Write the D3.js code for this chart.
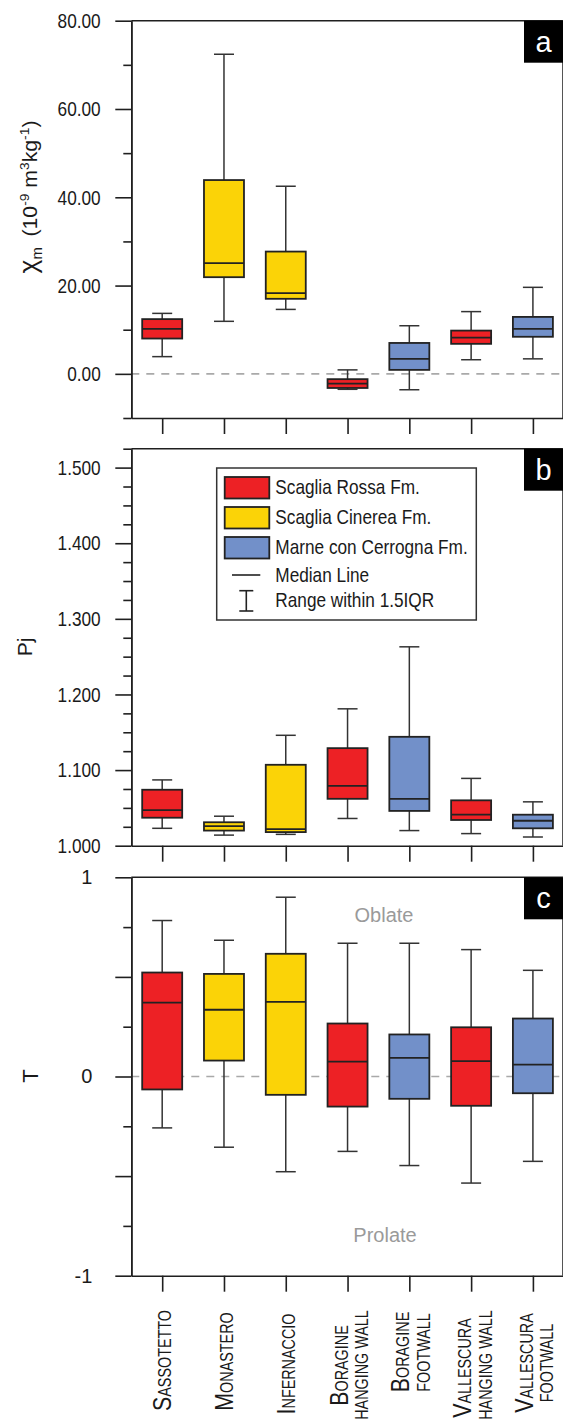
<!DOCTYPE html>
<html>
<head>
<meta charset="utf-8">
<script src="https://cdn.jsdelivr.net/npm/d3@7"></script>
<style>
  html, body { margin: 0; padding: 0; background: #fff; }
  svg { display: block; }
</style>
</head>
<body>
<svg id="chart" width="563" height="1423"></svg>
<script>
// ---- data -------------------------------------------------------------
const sites = ["Sassotetto", "Monastero", "Infernaccio", "Boragine HW", "Boragine FW", "Vallescura HW", "Vallescura FW"];

// small-caps style labels: [initial, rest] for each line
const siteLines = [
  [["S", "ASSOTETTO"]],
  [["M", "ONASTERO"]],
  [["I", "NFERNACCIO"]],
  [["B", "ORAGINE"], ["", "HANGING WALL"]],
  [["B", "ORAGINE"], ["", "FOOTWALL"]],
  [["V", "ALLESCURA"], ["", "HANGING WALL"]],
  [["V", "ALLESCURA"], ["", "FOOTWALL"]]
];

const formations = ["Scaglia Rossa Fm.", "Scaglia Cinerea Fm.", "Marne con Cerrogna Fm."];
const formationColors = ["#ED2125", "#FBD307", "#7290C9"];
const siteFormation = [0, 1, 1, 0, 2, 0, 2];

// five-number summaries per site: [low whisker, Q1, median, Q3, high whisker]
const chiBoxes = [
  [3.9, 8.0, 10.2, 12.4, 13.7],
  [11.9, 21.9, 25.1, 43.9, 72.4],
  [14.6, 17.0, 18.3, 27.7, 42.5],
  [-3.5, -3.2, -2.2, -1.2, 0.9],
  [-3.6, 0.9, 3.4, 7.0, 10.9],
  [3.2, 6.8, 8.2, 9.8, 14.1],
  [3.4, 8.4, 10.2, 12.9, 19.6]
];
const pjBoxes = [
  [1.023, 1.037, 1.047, 1.074, 1.087],
  [1.014, 1.020, 1.026, 1.031, 1.039],
  [1.015, 1.018, 1.022, 1.107, 1.146],
  [1.036, 1.062, 1.079, 1.129, 1.181],
  [1.020, 1.046, 1.062, 1.144, 1.263],
  [1.016, 1.034, 1.041, 1.060, 1.089],
  [1.0115, 1.023, 1.033, 1.041, 1.058]
];
const tBoxes = [
  [-0.258, -0.065, 0.371, 0.522, 0.783],
  [-0.355, 0.080, 0.335, 0.515, 0.684],
  [-0.478, -0.092, 0.375, 0.616, 0.900],
  [-0.376, -0.151, 0.075, 0.266, 0.669],
  [-0.447, -0.112, 0.094, 0.211, 0.669],
  [-0.535, -0.147, 0.077, 0.247, 0.637],
  [-0.426, -0.084, 0.060, 0.291, 0.533]
];

// axis ticks
const chiLabelTicks = [0, 20, 40, 60, 80];
const chiMinorTicks = [-10, 10, 30, 50, 70];
const pjLabelTicks = [1.0, 1.1, 1.2, 1.3, 1.4, 1.5];
const pjMinorTicks = [1.025, 1.05, 1.075, 1.125, 1.15, 1.175, 1.225, 1.25, 1.275,
                      1.325, 1.35, 1.375, 1.425, 1.45, 1.475, 1.525];
const tLabelTicks = [-1, 0, 1];
const tLongTicks = [-1, -0.5, 0, 0.5, 1];
const tMinorTicks = [-0.75, -0.25, 0.25, 0.75];

const legendExtra = ["Median Line", "Range within 1.5IQR"];

// ---- layout -----------------------------------------------------------
const SANS = '"Liberation Sans", Arial, Helvetica, sans-serif';
const INK = "#1f1f1f";
const LEFT = 131.3, RIGHT = 563.8;
const BOX_W = 40, CAP_W = 20;
const NARROW_RATIO = 0.82;
// vertical centre of each rotated site-label line
const labelCentres = [[1360.5], [1361.5], [1364], [1365.5, 1365], [1352, 1352.5], [1368, 1365], [1363, 1363]];

const svg = d3.select("#chart");

// condense a text element horizontally (narrow typeface look)
function narrow(sel, ratio = NARROW_RATIO) {
  sel.each(function () {
    const len = this.getComputedTextLength();
    if (len > 0) {
      this.setAttribute("textLength", (len * ratio).toFixed(2));
      this.setAttribute("lengthAdjust", "spacingAndGlyphs");
    }
  });
  return sel;
}

const x = d3.scalePoint().domain(sites).range([LEFT, RIGHT]).padding(0.5);

const panels = [
  {
    key: "a", boxes: chiBoxes, domain: [-10, 80], range: [418, 20.7],
    labelTicks: chiLabelTicks, longTicks: chiLabelTicks, minorTicks: chiMinorTicks,
    fmt: d3.format(".2f"), condensed: true, fontSize: 21, pad: 14.6, zeroLine: 0
  },
  {
    key: "b", boxes: pjBoxes, domain: [1.0, 1.525], range: [845.7, 448.7],
    labelTicks: pjLabelTicks, longTicks: pjLabelTicks, minorTicks: pjMinorTicks,
    fmt: d3.format(".3f"), condensed: true, fontSize: 21, pad: 14.6, zeroLine: null
  },
  {
    key: "c", boxes: tBoxes, domain: [-1, 1], range: [1275.7, 877.3],
    labelTicks: tLabelTicks, longTicks: tLongTicks, minorTicks: tMinorTicks,
    fmt: v => String(v), condensed: false, fontSize: 20, pad: 23, zeroLine: 0
  }
];

panels.forEach(p => {
  const y = d3.scaleLinear().domain(p.domain).range(p.range);
  const g = svg.append("g").attr("class", "panel-" + p.key);
  const yTop = p.range[1], yBot = p.range[0];

  // dashed reference line
  if (p.zeroLine !== null) {
    g.append("line")
      .attr("x1", LEFT).attr("x2", RIGHT)
      .attr("y1", y(p.zeroLine)).attr("y2", y(p.zeroLine))
      .attr("stroke", "#a9a9a9").attr("stroke-width", 1.6)
      .attr("stroke-dasharray", "8,7");
  }

  // frame: top and right edges
  g.append("line").attr("x1", LEFT).attr("x2", RIGHT).attr("y1", yTop).attr("y2", yTop)
    .attr("stroke", INK).attr("stroke-width", 1.6);
  g.append("line").attr("x1", 562.5).attr("x2", 562.5).attr("y1", yTop).attr("y2", yBot)
    .attr("stroke", "#555").attr("stroke-width", 1);

  // whiskers and boxes
  const items = g.selectAll("g.item").data(p.boxes).join("g").attr("class", "item")
    .attr("transform", (d, i) => `translate(${x(sites[i])},0)`);

  items.append("line")
    .attr("x1", 0).attr("x2", 0)
    .attr("y1", d => y(d[0])).attr("y2", d => y(d[4]))
    .attr("stroke", "#333").attr("stroke-width", 1.5);
  items.append("line")
    .attr("x1", -CAP_W / 2).attr("x2", CAP_W / 2)
    .attr("y1", d => y(d[4])).attr("y2", d => y(d[4]))
    .attr("stroke", "#333").attr("stroke-width", 1.5);
  items.append("line")
    .attr("x1", -CAP_W / 2).attr("x2", CAP_W / 2)
    .attr("y1", d => y(d[0])).attr("y2", d => y(d[0]))
    .attr("stroke", "#333").attr("stroke-width", 1.5);
  items.append("rect")
    .attr("x", -BOX_W / 2).attr("width", BOX_W)
    .attr("y", d => y(d[3])).attr("height", d => y(d[1]) - y(d[3]))
    .attr("fill", (d, i) => formationColors[siteFormation[i]])
    .attr("stroke", "#222").attr("stroke-width", 1.8);
  items.append("line")
    .attr("x1", -BOX_W / 2).attr("x2", BOX_W / 2)
    .attr("y1", d => y(d[2])).attr("y2", d => y(d[2]))
    .attr("stroke", "#222").attr("stroke-width", 1.8);

  // y axis: minor ticks
  const minorAxis = g.append("g").attr("transform", `translate(${LEFT},0)`)
    .call(d3.axisLeft(y).tickValues(p.minorTicks).tickSize(8).tickSizeOuter(0).tickFormat(""));
  // y axis: long ticks with labels
  const majorAxis = g.append("g").attr("transform", `translate(${LEFT},0)`)
    .call(d3.axisLeft(y).tickValues(p.longTicks).tickSize(16).tickSizeOuter(0)
      .tickPadding(p.pad)
      .tickFormat(v => p.labelTicks.includes(v) ? p.fmt(v) : ""));
  [minorAxis, majorAxis].forEach(a => {
    a.selectAll("path, line").attr("stroke", INK).attr("stroke-width", 1.6);
  });
  const tickText = majorAxis.selectAll("text")
    .attr("font-family", SANS).attr("font-size", p.fontSize).attr("fill", "#1a1a1a");
  if (p.condensed) narrow(tickText);

  // x axis ticks
  const xAxis = g.append("g").attr("transform", `translate(0,${yBot})`)
    .call(d3.axisBottom(x).tickSize(16).tickSizeOuter(0).tickFormat(""));
  xAxis.selectAll("path, line").attr("stroke", INK).attr("stroke-width", 1.6);

  // panel letter
  g.append("rect").attr("x", 524).attr("y", yTop).attr("width", 40).attr("height", 42)
    .attr("fill", "#000");
  g.append("text").attr("x", 543.5).attr("y", yTop + 31)
    .attr("text-anchor", "middle").attr("font-family", SANS).attr("font-size", 29)
    .attr("fill", "#fff").text(p.key);
});

// ---- axis titles --------------------------------------------------------
const titleA = svg.append("text")
  .attr("transform", "translate(37,197) rotate(-90)")
  .attr("text-anchor", "middle").attr("font-family", SANS).attr("font-size", 20).attr("fill", "#1a1a1a");
titleA.append("tspan").attr("font-size", 25).text("χ");
titleA.append("tspan").attr("font-size", 14).attr("dy", 5).text("m");
titleA.append("tspan").attr("dy", -5).text("\u2002(10");
titleA.append("tspan").attr("font-size", 13).attr("dy", -8).text("-9");
titleA.append("tspan").attr("dy", 8).text(" m");
titleA.append("tspan").attr("font-size", 13).attr("dy", -8).text("3");
titleA.append("tspan").attr("dy", 8).text("kg");
titleA.append("tspan").attr("font-size", 13).attr("dy", -8).text("-1");
titleA.append("tspan").attr("dy", 8).text(")");
titleA.attr("textLength", 153).attr("lengthAdjust", "spacingAndGlyphs");

svg.append("text")
  .attr("transform", "translate(32,647) rotate(-90)")
  .attr("text-anchor", "middle").attr("font-family", SANS).attr("font-size", 21).attr("fill", "#1a1a1a")
  .text("Pj");

svg.append("text")
  .attr("transform", "translate(38,1076) rotate(-90)")
  .attr("text-anchor", "middle").attr("font-family", SANS).attr("font-size", 22).attr("fill", "#1a1a1a")
  .text("T");

// ---- shape-field annotations in panel c ------------------------------
svg.append("text").attr("x", 384).attr("y", 922).attr("text-anchor", "middle")
  .attr("font-family", SANS).attr("font-size", 20).attr("fill", "#9a9a9a").text("Oblate");
svg.append("text").attr("x", 385).attr("y", 1242).attr("text-anchor", "middle")
  .attr("font-family", SANS).attr("font-size", 20).attr("fill", "#9a9a9a").text("Prolate");

// ---- legend (panel b) ---------------------------------------------------
const legend = svg.append("g").attr("class", "legend");
legend.append("rect").attr("x", 216.7).attr("y", 468).attr("width", 259.6).attr("height", 152)
  .attr("fill", "#fff").attr("stroke", "#333").attr("stroke-width", 1.5);
formations.forEach((name, i) => {
  const yy = 477 + i * 30;
  legend.append("rect").attr("x", 224.7).attr("y", yy).attr("width", 44.6).attr("height", 21.5)
    .attr("fill", formationColors[i]).attr("stroke", "#222").attr("stroke-width", 1.8);
  narrow(legend.append("text").attr("x", 275.3).attr("y", yy + 17.3)
    .attr("font-family", SANS).attr("font-size", 21).attr("fill", "#1a1a1a").text(name));
});
legend.append("line").attr("x1", 232).attr("x2", 260.3).attr("y1", 575).attr("y2", 575)
  .attr("stroke", "#222").attr("stroke-width", 1.6);
narrow(legend.append("text").attr("x", 275.3).attr("y", 581.7)
  .attr("font-family", SANS).attr("font-size", 21).attr("fill", "#1a1a1a").text(legendExtra[0]));
const ibeam = legend.append("g").attr("stroke", "#222").attr("stroke-width", 1.6);
ibeam.append("line").attr("x1", 246.3).attr("x2", 246.3).attr("y1", 590.7).attr("y2", 611);
ibeam.append("line").attr("x1", 239.3).attr("x2", 253.3).attr("y1", 590.7).attr("y2", 590.7);
ibeam.append("line").attr("x1", 239.3).attr("x2", 253.3).attr("y1", 611).attr("y2", 611);
narrow(legend.append("text").attr("x", 275.3).attr("y", 606.7)
  .attr("font-family", SANS).attr("font-size", 21).attr("fill", "#1a1a1a").text(legendExtra[1]));

// ---- site labels under panel c ----------------------------------------
siteLines.forEach((lines, i) => {
  const cx = x(sites[i]);
  lines.forEach((ln, j) => {
    const base = lines.length === 1 ? cx + 9 : cx + (j === 0 ? 0 : 20.5);
    const t = svg.append("text")
      .attr("transform", `translate(${base},${labelCentres[i][j]}) rotate(-90)`)
      .attr("text-anchor", "middle").attr("font-family", SANS).attr("fill", "#1a1a1a");
    if (ln[0]) t.append("tspan").attr("font-size", 26).text(ln[0]);
    t.append("tspan").attr("font-size", 17.5).text(ln[1]);
    narrow(t);
  });
});
</script>
</body>
</html>
